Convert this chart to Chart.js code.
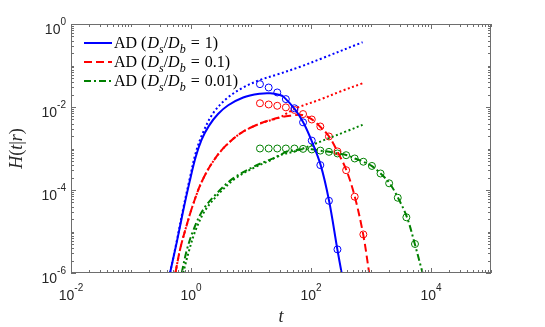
<!DOCTYPE html>
<html>
<head>
<meta charset="utf-8">
<script src="https://cdn.jsdelivr.net/npm/chart.js@4"></script>
<style>
  body { margin: 0; background: #fff; }
  #wrap { width: 545px; height: 327px; }
</style>
</head>
<body>
<div id="wrap"><canvas id="myChart" width="545" height="327"></canvas></div>
<script>
// Dữ liệu (t, H)
const tBlue = [0.447, 0.575, 0.741, 0.955, 1.20, 1.51, 2.00, 2.82, 4.17, 7.41, 14.1, 20.9, 30.2, 34.7, 53.7, 74.1, 102, 145, 200, 275, 324];
const hBlue = [1e-6, 5.25e-6, 3.16e-5, 1.66e-4, 6.3e-4, 1.66e-3, 3.55e-3, 6.76e-3, 0.0110, 0.0170, 0.0209, 0.0214, 0.0195, 0.0178, 0.0089, 0.00427, 0.00155, 3.98e-4, 5.5e-5, 3.7e-6, 1e-6];

const tBlueAsym = [0.447, 0.575, 0.741, 0.955, 1.20, 1.58, 2.34, 3.89, 7.41, 14.1, 26.9, 66.1, 151, 724];
const hBlueAsym = [1e-6, 5.6e-6, 3.55e-5, 1.9e-4, 7.9e-4, 2.4e-3, 7.1e-3, 0.0158, 0.0295, 0.0447, 0.0603, 0.0933, 0.148, 0.363];

const tRed = [0.55, 0.66, 0.851, 1.10, 1.51, 2.29, 3.80, 7.08, 14.1, 30.2, 47.9, 70.8, 102, 141, 200, 275, 389, 537, 741, 933];
const hRed = [1e-6, 3.8e-6, 1.45e-5, 4.8e-5, 1.58e-4, 4.68e-4, 1.17e-3, 2.45e-3, 3.98e-3, 5.6e-3, 6.2e-3, 6.45e-3, 5.1e-3, 3.39e-3, 1.95e-3, 8.5e-4, 3.0e-4, 6.9e-5, 8.5e-6, 1e-6];

const tRedAsym = [0.55, 0.66, 0.851, 1.10, 1.51, 2.29, 3.80, 7.08, 14.1, 30.2, 41.7, 57.5, 141, 316, 724];
const hRedAsym = [1e-6, 3.8e-6, 1.45e-5, 4.8e-5, 1.58e-4, 4.68e-4, 1.17e-3, 2.45e-3, 3.98e-3, 5.6e-3, 7.4e-3, 9.5e-3, 0.0151, 0.0240, 0.0372];

const tGreen = [0.70, 0.851, 1.10, 1.58, 2.69, 5.01, 11.0, 18.2, 30.2, 38.0, 52.5, 74.1, 102, 141, 200, 275, 398, 537, 741, 1023, 1445, 2042, 2818, 3981, 5370, 7244];
const hGreen = [1e-6, 3.55e-6, 1.1e-5, 3.3e-5, 8.3e-5, 1.9e-4, 3.63e-4, 5.0e-4, 6.76e-4, 8.3e-4, 9.1e-4, 9.55e-4, 9.55e-4, 8.9e-4, 8.3e-4, 7.6e-4, 6.9e-4, 5.75e-4, 4.8e-4, 3.8e-4, 2.5e-4, 1.45e-4, 6.5e-5, 2.2e-5, 5.0e-6, 1e-6];

const tGreenAsym = [0.74, 0.933, 1.20, 1.74, 2.95, 5.50, 12.0, 20.0, 30.2, 56.2, 110, 200, 398, 724];
const hGreenAsym = [1e-6, 3.55e-6, 1.1e-5, 3.3e-5, 8.3e-5, 1.9e-4, 3.63e-4, 5.0e-4, 6.9e-4, 8.7e-4, 1.26e-3, 1.78e-3, 2.63e-3, 3.72e-3];

// Điểm mô phỏng (vòng tròn)
const tMarks = [14.1, 19.7, 27.4, 38.1, 53.0, 73.7, 103, 143, 199, 276, 385, 535, 745, 1036, 1442, 2007, 2793, 3886, 5408];
const hBlueMarks = [0.0355, 0.0295, 0.0224, 0.0155, 0.00933, 0.00427, 0.00155, 3.98e-4, 5.5e-5, 3.7e-6];
const hRedMarks = [0.0123, 0.0115, 0.0107, 0.0098, 0.0085, 0.00676, 0.0050, 0.00339, 0.00195, 8.5e-4, 3.0e-4, 6.9e-5, 8.5e-6];
const hGreenMarks = [1.0e-3, 1.0e-3, 1.0e-3, 1.0e-3, 1.0e-3, 9.8e-4, 9.5e-4, 8.9e-4, 8.3e-4, 7.6e-4, 6.9e-4, 5.75e-4, 4.8e-4, 3.8e-4, 2.5e-4, 1.45e-4, 6.5e-5, 2.2e-5, 5.0e-6];

const ratios = ['1', '0.1', '0.01'];
const xDecadeLabels = [-2, 0, 2, 4];
const yDecadeLabels = [0, -2, -4, -6];

const BLUE = '#0000ff', RED = '#ff0000', GREEN = '#008000';
const DASH = [8, 4], DASHDOT = [7, 3, 2, 3], DOT = [2, 2.5];

function pts(ts, hs) {
    return hs.map((h, i) => ({ x: ts[i], y: h }));
}

function curve(label, ts, hs, color, dash) {
    return {
        label: label,
        data: pts(ts, hs),
        showLine: true,
        borderColor: color,
        borderWidth: 2,
        borderDash: dash,
        pointRadius: 0,
        tension: 0.35,
        fill: false
    };
}

function marks(ts, hs, color) {
    return {
        label: '',
        data: pts(ts, hs),
        showLine: false,
        borderColor: color,
        backgroundColor: 'rgba(0,0,0,0)',
        borderWidth: 1,
        pointRadius: 3.5,
        pointStyle: 'circle'
    };
}

const datasets = [
    curve('AD1', tBlue, hBlue, BLUE, []),
    curve('AD2', tRed, hRed, RED, DASH),
    curve('AD3', tGreen, hGreen, GREEN, DASHDOT),
    curve('', tBlueAsym, hBlueAsym, BLUE, DOT),
    curve('', tRedAsym, hRedAsym, RED, DOT),
    curve('', tGreenAsym, hGreenAsym, GREEN, DOT),
    marks(tMarks, hBlueMarks, BLUE),
    marks(tMarks, hRedMarks, RED),
    marks(tMarks, hGreenMarks, GREEN)
];

// Vẽ chữ có nghiêng / chỉ số dưới
function drawRich(ctx, x, y, parts, size) {
    parts.forEach(p => {
        const fs = p.sub ? Math.round(size * 0.72) : size;
        ctx.font = (p.it ? 'italic ' : '') + fs + 'px "Liberation Serif", "Times New Roman", serif';
        const dy = p.sub ? size * 0.3 : 0;
        ctx.fillText(p.t, x, y + dy);
        x += ctx.measureText(p.t).width + (p.gap || 0);
    });
    return x;
}

function drawPow(ctx, exp, x, y, align) {
    ctx.font = '14px "Liberation Sans", Arial, sans-serif';
    const w1 = ctx.measureText('10').width;
    ctx.font = '10px "Liberation Sans", Arial, sans-serif';
    const e = String(exp);
    const w2 = ctx.measureText(e).width;
    const x0 = align === 'center' ? x - (w1 + w2) / 2 : x - (w1 + w2);
    ctx.font = '14px "Liberation Sans", Arial, sans-serif';
    ctx.fillText('10', x0, y);
    ctx.font = '10px "Liberation Sans", Arial, sans-serif';
    ctx.fillText(e, x0 + w1, y - 9);
}

const framePlugin = {
    id: 'frame',
    afterDatasetsDraw(chart) {
        const ctx = chart.ctx;
        const a = chart.chartArea;
        const xs = chart.scales.x, ys = chart.scales.y;
        ctx.save();
        ctx.strokeStyle = '#6e6e6e';
        ctx.lineWidth = 1;
        ctx.strokeRect(a.left + 0.5, a.top + 0.5, a.right - a.left - 1, a.bottom - a.top - 1);

        // vạch chia hướng vào trong
        ctx.beginPath();
        for (let e = -2; e <= 5; e++) {
            for (let k = 1; k <= 9; k++) {
                const v = k * Math.pow(10, e);
                if (v > 1e5 * 1.0001) break;
                const px = Math.round(xs.getPixelForValue(v)) + 0.5;
                const len = (k === 1 && e % 2 === 0) ? 5 : 3;
                ctx.moveTo(px, a.bottom); ctx.lineTo(px, a.bottom - len);
                ctx.moveTo(px, a.top); ctx.lineTo(px, a.top + len);
            }
        }
        for (let e = -6; e <= 0; e++) {
            for (let k = 1; k <= 9; k++) {
                const v = k * Math.pow(10, e);
                if (v > 1.0001) break;
                const py = Math.round(ys.getPixelForValue(v)) + 0.5;
                const len = (k === 1 && e % 2 === 0) ? 5 : 3;
                ctx.moveTo(a.left, py); ctx.lineTo(a.left + len, py);
                ctx.moveTo(a.right, py); ctx.lineTo(a.right - len, py);
            }
        }
        ctx.stroke();

        // nhãn trục
        ctx.fillStyle = '#262626';
        ctx.textBaseline = 'alphabetic';
        xDecadeLabels.forEach(e => {
            drawPow(ctx, e, xs.getPixelForValue(Math.pow(10, e)), 300, 'center');
        });
        yDecadeLabels.forEach(e => {
            drawPow(ctx, e, 66, ys.getPixelForValue(Math.pow(10, e)) + 10, 'right');
        });

        // tiêu đề trục
        ctx.font = 'italic 18px "Liberation Serif", "Times New Roman", serif';
        ctx.textAlign = 'center';
        ctx.fillText('t', (a.left + a.right) / 2, 322);
        ctx.textAlign = 'left';
        ctx.save();
        ctx.translate(22, (a.top + a.bottom) / 2);
        ctx.rotate(-Math.PI / 2);
        const yParts = [{ t: 'H', it: true }, { t: '(' }, { t: 't', it: true }, { t: '|' }, { t: 'r', it: true }, { t: ')' }];
        let w = 0;
        yParts.forEach(p => {
            ctx.font = (p.it ? 'italic ' : '') + '18px "Liberation Serif", serif';
            w += ctx.measureText(p.t).width;
        });
        drawRich(ctx, -w / 2, 0, yParts, 18);
        ctx.restore();

        // chú thích
        const rowY = [43, 62, 81];
        [0, 1, 2].forEach(i => {
            const ds = chart.data.datasets[i];
            ctx.save();
            ctx.strokeStyle = ds.borderColor;
            ctx.lineWidth = 2;
            ctx.setLineDash(ds.borderDash || []);
            ctx.beginPath();
            ctx.moveTo(84, rowY[i]);
            ctx.lineTo(112, rowY[i]);
            ctx.stroke();
            ctx.restore();
            ctx.fillStyle = '#000';
            drawRich(ctx, 114, rowY[i] + 5, [
                { t: 'AD (', gap: 1 }, { t: 'D', it: true }, { t: 's', it: true, sub: true },
                { t: '/' }, { t: 'D', it: true }, { t: 'b', it: true, sub: true, gap: 5 },
                { t: '=', gap: 5 }, { t: ratios[i] + ')' }
            ], 16);
        });
        ctx.restore();
    }
};

new Chart(document.getElementById('myChart').getContext('2d'), {
    type: 'scatter',
    data: { datasets: datasets },
    options: {
        responsive: false,
        devicePixelRatio: 1,
        animation: false,
        layout: { padding: { left: 71, right: 54, top: 24, bottom: 54 } },
        plugins: {
            legend: { display: false },
            tooltip: { enabled: false }
        },
        scales: {
            x: { type: 'logarithmic', min: 1e-2, max: 1e5, display: false },
            y: { type: 'logarithmic', min: 1e-6, max: 1, display: false }
        }
    },
    plugins: [framePlugin]
});
</script>
</body>
</html>
